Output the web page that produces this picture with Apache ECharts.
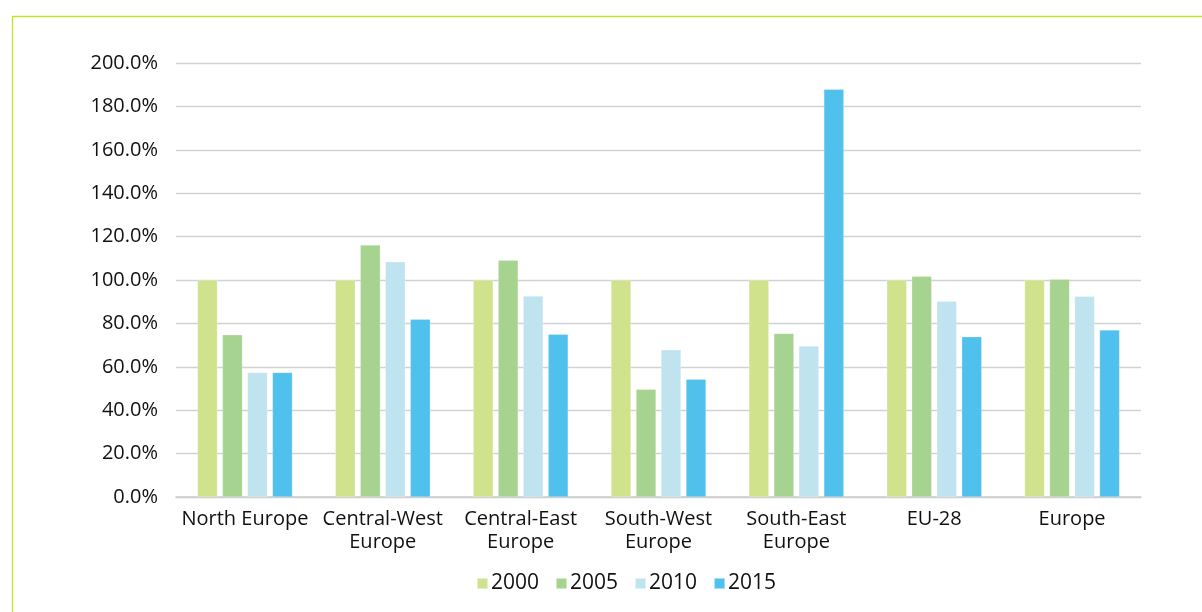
<!DOCTYPE html>
<html>
<head>
<meta charset="utf-8">
<script src="https://cdn.jsdelivr.net/npm/echarts@6/dist/echarts.min.js"></script>
<style>
html,body{margin:0;padding:0;background:#fff;}
#chart{width:1202px;height:612px;}
</style>
</head>
<body>
<div id="chart"></div>
<script>
const categories = ['North Europe', 'Central-West\nEurope', 'Central-East\nEurope', 'South-West\nEurope', 'South-East\nEurope', 'EU-28', 'Europe'];
const seriesNames = ['2000', '2005', '2010', '2015'];
const values2000 = [100, 100, 100, 100, 100, 100, 100];
const values2005 = [74.8, 116.1, 109.1, 49.6, 75.4, 101.7, 100.3];
const values2010 = [57.4, 108.4, 92.6, 67.8, 69.6, 90.2, 92.5];
const values2015 = [57.4, 81.9, 75.0, 54.3, 187.9, 73.9, 77.0];
const colors = ['#d0e28c', '#a6d38f', '#bfe4ef', '#4fc1ec'];
const yTicks = { min: 0, max: 200, interval: 20 };

const allValues = [values2000, values2005, values2010, values2015];
const font = '"Open Sans", "Liberation Sans", sans-serif';

const chart = echarts.init(document.getElementById('chart'), null, { renderer: 'canvas' });
chart.setOption({
  backgroundColor: '#ffffff',
  animation: false,
  color: colors,
  graphic: [
    { type: 'line', shape: { x1: 12, y1: 16.5, x2: 1202, y2: 16.5 }, style: { stroke: '#c8e02a', lineWidth: 1.3 } },
    { type: 'line', shape: { x1: 12.5, y1: 16, x2: 12.5, y2: 612 }, style: { stroke: '#c8e02a', lineWidth: 1.3 } }
  ],
  grid: { left: 176, right: 61, top: 63, bottom: 115, containLabel: false },
  legend: {
    data: seriesNames,
    bottom: 13,
    left: 471,
    icon: 'rect',
    itemWidth: 11,
    itemHeight: 11,
    itemGap: 16,
    textStyle: { fontFamily: font, fontSize: 21, color: '#111111', padding: [0, 0, 0, -2] }
  },
  xAxis: {
    type: 'category',
    data: categories,
    axisLine: { lineStyle: { color: '#cccccc', width: 1.6 } },
    axisTick: { show: false },
    axisLabel: { fontFamily: font, fontSize: 20, color: '#111111', margin: 11, lineHeight: 23, interval: 0 }
  },
  yAxis: {
    type: 'value',
    min: yTicks.min,
    max: yTicks.max,
    interval: yTicks.interval,
    axisLine: { show: false },
    axisTick: { show: false },
    splitLine: { lineStyle: { color: '#d2d2d2', width: 1.3 } },
    axisLabel: { fontFamily: font, fontSize: 20, color: '#111111', margin: 18, formatter: v => v.toFixed(1) + '%' }
  },
  series: seriesNames.map((name, i) => ({
    name: name,
    type: 'bar',
    data: allValues[i],
    barWidth: 20,
    barGap: '25%',
    itemStyle: { color: colors[i], borderColor: 'rgba(255,255,255,0.5)', borderWidth: 0.5 }
  }))
});
</script>
</body>
</html>
